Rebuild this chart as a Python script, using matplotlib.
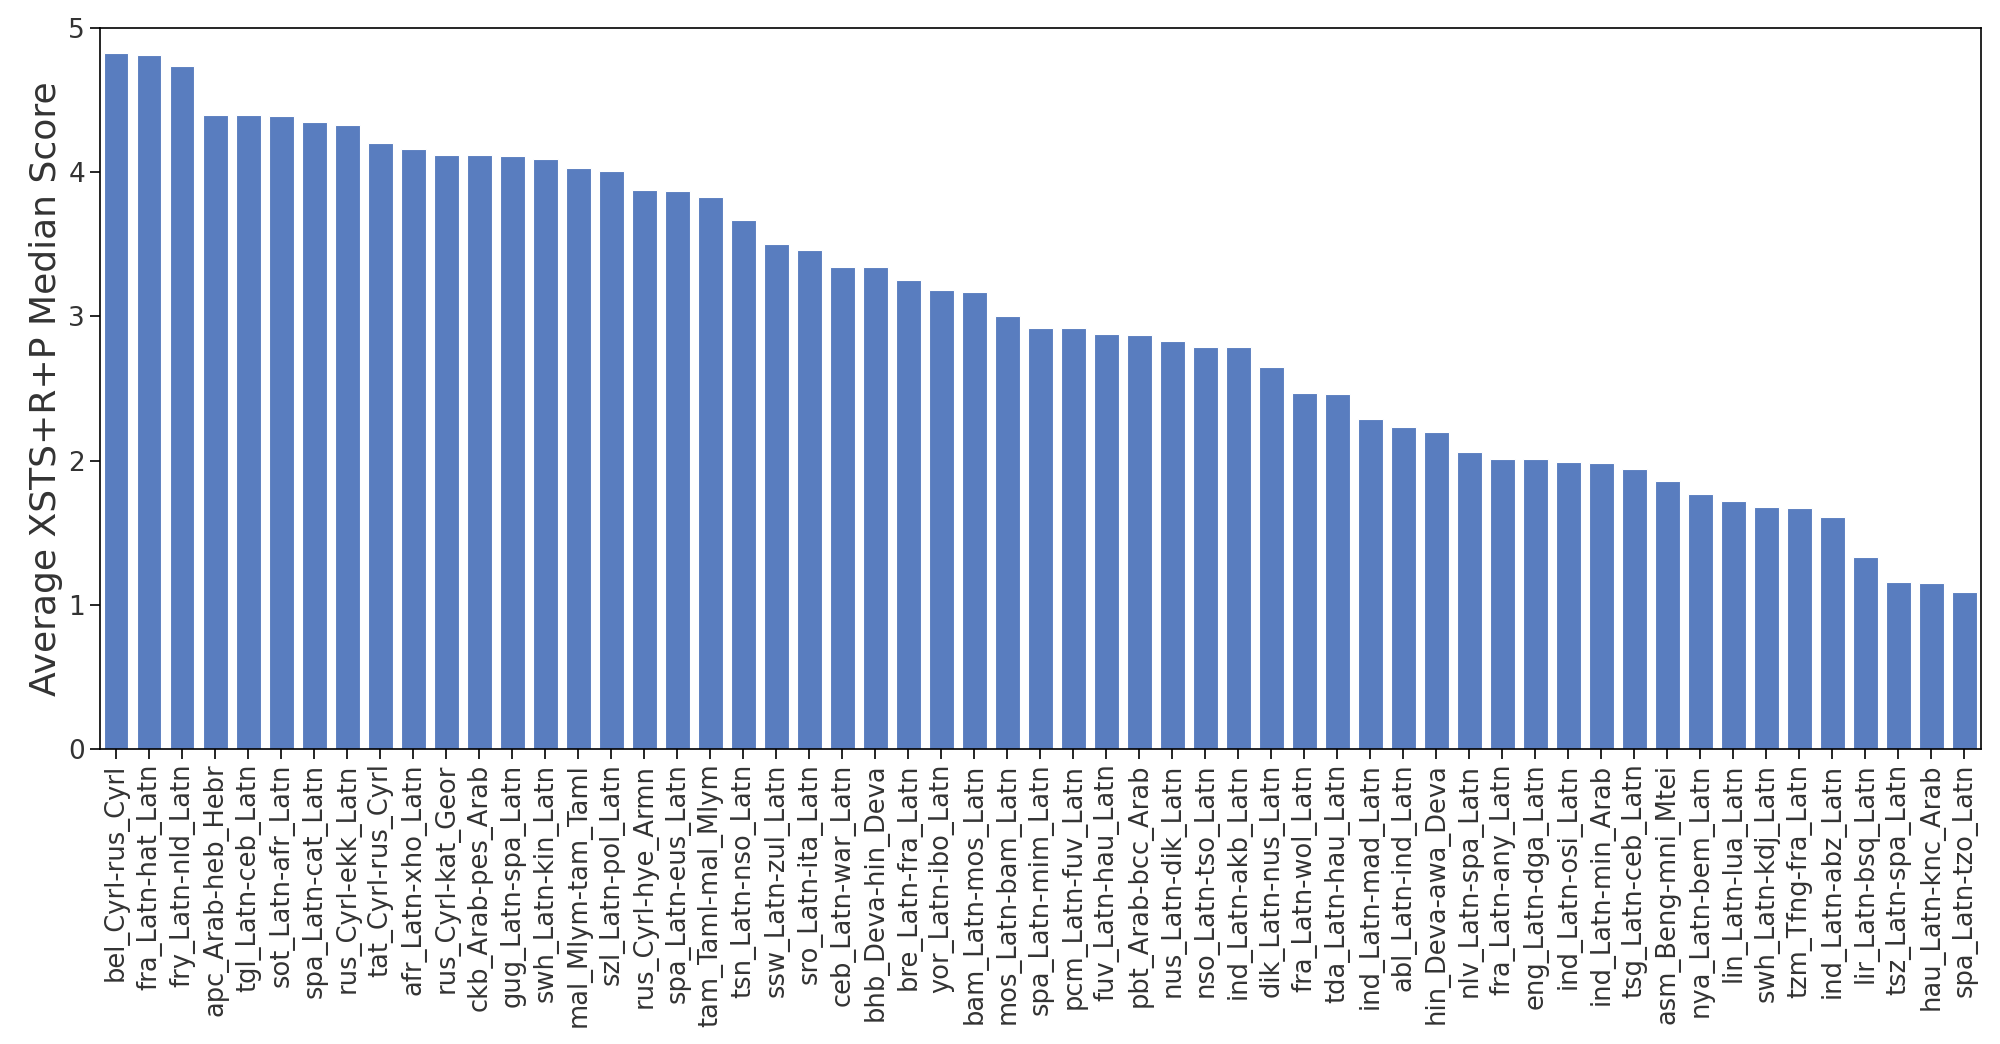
import matplotlib
matplotlib.use("Agg")
import matplotlib.pyplot as plt

pairs = [
    "bel_Cyrl-rus_Cyrl", "fra_Latn-hat_Latn", "fry_Latn-nld_Latn", "apc_Arab-heb_Hebr",
    "tgl_Latn-ceb_Latn", "sot_Latn-afr_Latn", "spa_Latn-cat_Latn", "rus_Cyrl-ekk_Latn",
    "tat_Cyrl-rus_Cyrl", "afr_Latn-xho_Latn", "rus_Cyrl-kat_Geor", "ckb_Arab-pes_Arab",
    "gug_Latn-spa_Latn", "swh_Latn-kin_Latn", "mal_Mlym-tam_Taml", "szl_Latn-pol_Latn",
    "rus_Cyrl-hye_Armn", "spa_Latn-eus_Latn", "tam_Taml-mal_Mlym", "tsn_Latn-nso_Latn",
    "ssw_Latn-zul_Latn", "sro_Latn-ita_Latn", "ceb_Latn-war_Latn", "bhb_Deva-hin_Deva",
    "bre_Latn-fra_Latn", "yor_Latn-ibo_Latn", "bam_Latn-mos_Latn", "mos_Latn-bam_Latn",
    "spa_Latn-mim_Latn", "pcm_Latn-fuv_Latn", "fuv_Latn-hau_Latn", "pbt_Arab-bcc_Arab",
    "nus_Latn-dik_Latn", "nso_Latn-tso_Latn", "ind_Latn-akb_Latn", "dik_Latn-nus_Latn",
    "fra_Latn-wol_Latn", "tda_Latn-hau_Latn", "ind_Latn-mad_Latn", "abl_Latn-ind_Latn",
    "hin_Deva-awa_Deva", "nlv_Latn-spa_Latn", "fra_Latn-any_Latn", "eng_Latn-dga_Latn",
    "ind_Latn-osi_Latn", "ind_Latn-min_Arab", "tsg_Latn-ceb_Latn", "asm_Beng-mni_Mtei",
    "nya_Latn-bem_Latn", "lin_Latn-lua_Latn", "swh_Latn-kdj_Latn", "tzm_Tfng-fra_Latn",
    "ind_Latn-abz_Latn", "lir_Latn-bsq_Latn", "tsz_Latn-spa_Latn", "hau_Latn-knc_Arab",
    "spa_Latn-tzo_Latn",
]

scores = [
    4.83, 4.81, 4.74, 4.40, 4.40, 4.39, 4.35, 4.33,
    4.20, 4.16, 4.12, 4.12, 4.11, 4.09, 4.03, 4.01,
    3.88, 3.87, 3.83, 3.67, 3.50, 3.46, 3.34, 3.34,
    3.25, 3.18, 3.17, 3.00, 2.92, 2.92, 2.88, 2.87,
    2.83, 2.79, 2.79, 2.65, 2.47, 2.46, 2.29, 2.23,
    2.20, 2.06, 2.01, 2.01, 1.99, 1.98, 1.94, 1.86,
    1.77, 1.72, 1.68, 1.67, 1.61, 1.33, 1.16, 1.15,
    1.09,
]

ylabel = "Average XSTS+R+P Median Score"
yticks = [0, 1, 2, 3, 4, 5]

text_color = "#333333"
plt.rcParams["font.family"] = ["DejaVu Sans"]

fig = plt.figure(figsize=(20, 10.44), dpi=100)
ax = fig.add_axes([0.0498, 0.2826, 0.9407, 0.6905])

x = list(range(len(pairs)))
ax.bar(x, scores, width=0.75, color="#597dbf", edgecolor="white", linewidth=0.8)

ax.set_xlim(-0.5, len(pairs) - 0.5)
ax.set_ylim(0, 5)
ax.set_yticks(yticks)
ax.set_xticks(x)
ax.set_xticklabels(pairs, rotation=90, fontsize=18.5, color=text_color)
ax.tick_params(axis="y", labelsize=19, labelcolor=text_color, length=7, width=1.2, color="black")
ax.tick_params(axis="x", length=7, width=1.2, color="black")
ax.set_ylabel(ylabel, fontsize=26, color=text_color)
for s in ax.spines.values():
    s.set_linewidth(1.2)
    s.set_color("black")

fig.savefig("out.png", dpi=100)
